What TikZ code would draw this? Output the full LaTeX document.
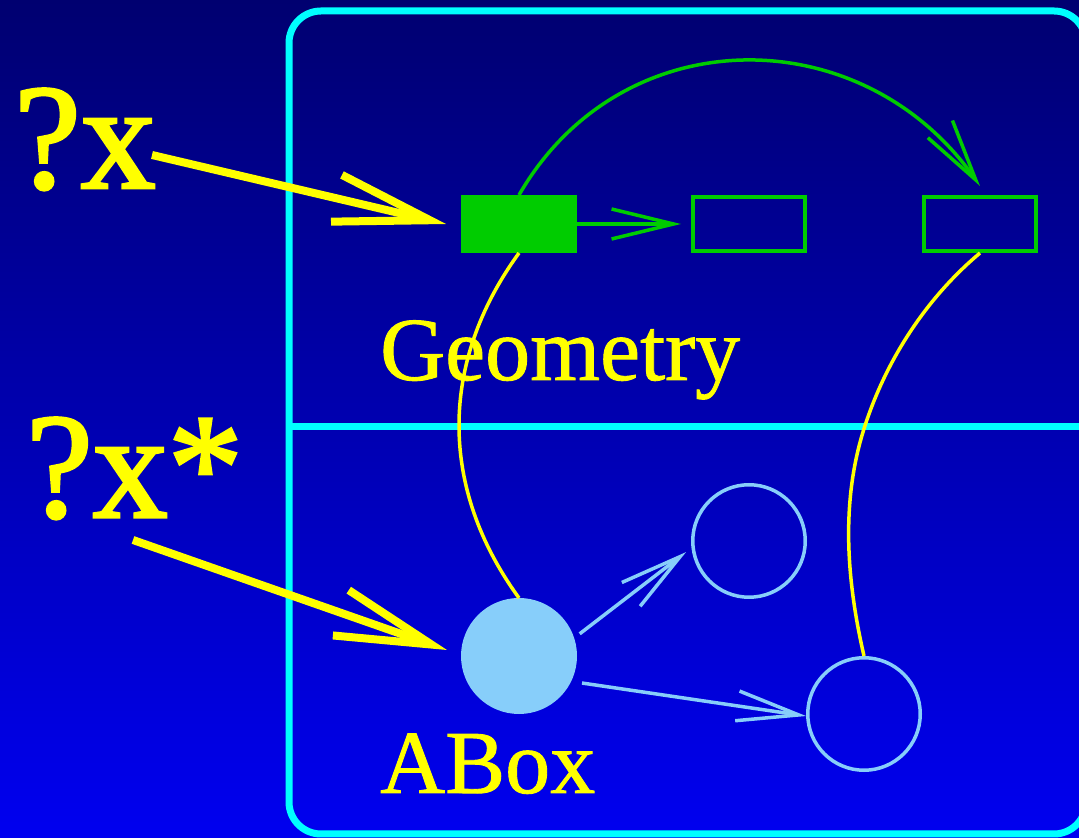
\documentclass[tikz,border=0pt]{standalone}
\usepackage{fontspec}
\setmainfont{Liberation Serif}
\newfontfamily\qfont{Liberation Serif}[BoldFont={Liberation Serif}, BoldFeatures={FakeBold=2}]
\newfontfamily\lfont{Liberation Serif}[BoldFont={Liberation Serif}, BoldFeatures={FakeBold=1}]
\usetikzlibrary{arrows.meta,calc}
\definecolor{bgtop}{RGB}{0,0,112}
\definecolor{bgbot}{RGB}{0,0,240}
\definecolor{fgreen}{RGB}{0,204,0}
\definecolor{fcyan}{RGB}{0,255,255}
\definecolor{fyellow}{RGB}{255,255,0}
\definecolor{lblue}{RGB}{135,206,250}
\begin{document}
\begin{tikzpicture}[x=1pt,y=1pt,
  rectbox/.style={rectangle, draw=fgreen, line width=4pt, minimum width=112pt, minimum height=54pt, inner sep=0pt},
  circbox/.style={circle, draw=lblue, line width=3.5pt, minimum size=112.5pt, inner sep=0pt},
  bigarrow/.style={draw=fyellow, line width=8pt, -{Straight Barb[length=96pt,width=48pt]}},
  greenarrow/.style={draw=fgreen, line width=3.5pt, -{Straight Barb[length=62pt,width=30pt]}},
  bluearrow/.style={draw=lblue, line width=3.5pt, -{Straight Barb[length=62pt,width=30pt]}},
  link/.style={draw=fyellow, line width=3.5pt},
  lbl/.style={text=fyellow, inner sep=0pt, anchor=base west, font=\lfont\bfseries\fontsize{90}{90}\selectfont},
  qlbl/.style={text=fyellow, inner sep=0pt, anchor=base west, font=\qfont\bfseries\fontsize{150}{150}\selectfont},
]
\useasboundingbox (0,0) rectangle (1079,838);
\clip (0,0) rectangle (1079,838);
\shade[top color=bgtop, bottom color=bgbot] (0,0) rectangle (1079,838);
\draw[fcyan, line width=7pt, rounded corners=32pt] (289,4) rectangle (1086,827);
\draw[fcyan, line width=7pt] (289,411) -- (1086,411);

\node[rectbox, fill=fgreen] (g1) at (519,614) {};
\node[rectbox] (g2) at (749,614) {};
\node[rectbox] (g3) at (980,614) {};
\node[circbox, fill=lblue, draw=lblue] (a1) at (519,182) {};
\node[circbox] (a2) at (749,297) {};
\node[circbox] (a3) at (864,124) {};

\node[lbl] (geo) at (380,458) {Geometry};
\node[lbl] (abox) at (380,45) {ABox};
\node[qlbl] (qx) at (14,650) {?x};
\node[qlbl] (qxs) at (26,321) {?x*};

\coordinate (s1) at (152,683);
\coordinate (s2) at (133,298);
\coordinate (m2) at (863,406);

\draw[bigarrow] (s1) -- ([xshift=-15pt]g1.west);
\draw[bigarrow] (s2) -- ([xshift=-14pt,yshift=6pt]a1.west);

\draw[greenarrow] (g1.east) -- ([xshift=-10pt]g2.west);
\draw[greenarrow] (g1.north) .. controls +(60:205) and +(125:205) .. ([yshift=9pt]g3.north);

\draw[bluearrow, shorten <=7pt] (a1.18) -- ([xshift=-6pt]a2.191);
\draw[bluearrow, shorten <=11pt] (a1.-26) -- (a3.182);

\draw[link] (g1.south) .. controls +(-80,-110) and +(-80,110) .. (a1.north);
\draw[link] (g3.south) .. controls +(220:72) and +(73:72) .. (m2)
  .. controls +(253:76) and +(103:76) .. (a3.north);
\end{tikzpicture}
\end{document}
